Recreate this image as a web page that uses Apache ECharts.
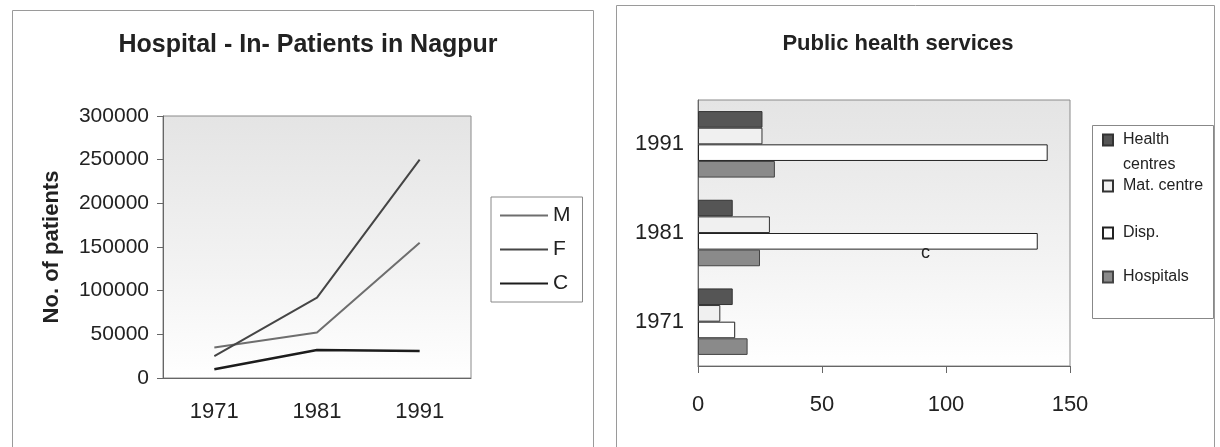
<!DOCTYPE html>
<html>
<head>
<meta charset="utf-8">
<script src="https://cdn.jsdelivr.net/npm/echarts@6/dist/echarts.min.js"></script>
<style>
  html, body { margin: 0; padding: 0; background: #fff; }
  #chart { width: 1220px; height: 447px; }
</style>
</head>
<body>
<div id="chart"></div>
<script>
// left chart: in-patients
const years = ['1971', '1981', '1991']
const patientsM = [35000, 52000, 155000]
const patientsF = [25000, 92000, 250000]
const patientsC = [10000, 32000, 31000]

// right chart: public health services
const serviceYears = ['1971', '1981', '1991']
const healthCentres = [14, 14, 26]
const matCentres = [9, 29, 26]
const dispensaries = [15, 137, 141]
const hospitals = [20, 25, 31]

const FONT = '"Liberation Sans", Arial, sans-serif'

const chart = echarts.init(document.getElementById('chart'), null, { renderer: 'canvas' })

const plotBg = new echarts.graphic.LinearGradient(0, 0, 0, 1, [
  { offset: 0, color: '#e4e4e4' },
  { offset: 0.6, color: '#f3f3f3' },
  { offset: 1, color: '#ffffff' }
])

const legendText = { fontFamily: FONT, fontSize: 16, color: '#222', padding: [0, 0, 0, 5] }

const option = {
  backgroundColor: '#fff',
  animation: false,
  graphic: [
    // panel frames
    { type: 'rect', shape: { x: 12.5, y: 10.5, width: 581, height: 460 }, style: { fill: 'none', stroke: '#9a9a9a', lineWidth: 1 } },
    { type: 'rect', shape: { x: 616.5, y: 5.5, width: 598, height: 460 }, style: { fill: 'none', stroke: '#9a9a9a', lineWidth: 1 } },
    // right legend frame
    { type: 'rect', shape: { x: 1092.5, y: 125.5, width: 121, height: 193 }, style: { fill: '#fff', stroke: '#888', lineWidth: 1 }, z: 0 },
    { type: 'text', left: 1123, top: 157, style: { text: 'centres', font: '16px ' + FONT, fill: '#222' }, z: 10 },
    // stray mark in the scan
    { type: 'text', left: 921, top: 244, style: { text: 'c', font: '18px ' + FONT, fill: '#222' }, z: 10 }
  ],
  title: [
    {
      text: 'Hospital - In- Patients in Nagpur',
      left: 303, top: 28, textAlign: 'center',
      textStyle: { fontFamily: FONT, fontSize: 25, fontWeight: 'bold', color: '#222' }
    },
    {
      text: 'Public health services',
      left: 893, top: 28, textAlign: 'center',
      textStyle: { fontFamily: FONT, fontSize: 22, fontWeight: 'bold', color: '#222' }
    }
  ],
  legend: [
    {
      data: ['M', 'F', 'C'],
      orient: 'vertical',
      left: 491, top: 197,
      padding: [8, 12, 8, 9],
      itemGap: 13,
      itemWidth: 48,
      itemHeight: 2,
      icon: 'rect',
      borderColor: '#888',
      borderWidth: 1,
      textStyle: { fontFamily: FONT, fontSize: 21, color: '#222' }
    },
    { data: [{ name: 'Health centres', icon: 'rect' }], formatter: () => 'Health', left: 1102, top: 132, itemWidth: 10, itemHeight: 11, padding: 0, itemGap: 0, textStyle: legendText },
    { data: [{ name: 'Mat. centre', icon: 'rect' }], left: 1102, top: 178, itemWidth: 10, itemHeight: 11, padding: 0, textStyle: legendText },
    { data: [{ name: 'Disp.', icon: 'rect' }], left: 1102, top: 225, itemWidth: 10, itemHeight: 11, padding: 0, textStyle: legendText },
    { data: [{ name: 'Hospitals', icon: 'rect' }], left: 1102, top: 269, itemWidth: 10, itemHeight: 11, padding: 0, textStyle: legendText }
  ],
  grid: [
    { left: 163, top: 116, width: 308, height: 262, show: true, borderColor: '#8a8a8a', borderWidth: 1, backgroundColor: plotBg },
    { left: 698, top: 100, width: 372, height: 266, show: true, borderColor: '#8a8a8a', borderWidth: 1, backgroundColor: plotBg }
  ],
  xAxis: [
    {
      gridIndex: 0,
      type: 'category',
      data: years,
      boundaryGap: true,
      axisLine: { lineStyle: { color: '#666' } },
      axisTick: { length: 6, lineStyle: { color: '#666' } },
      axisLabel: { margin: 23, fontFamily: FONT, fontSize: 22, color: '#222' }
    },
    {
      gridIndex: 1,
      type: 'value',
      min: 0, max: 150, interval: 50,
      splitLine: { show: false },
      axisLine: { show: true, lineStyle: { color: '#666' } },
      axisTick: { show: true, length: 7, lineStyle: { color: '#666' } },
      axisLabel: { margin: 28, fontFamily: FONT, fontSize: 22, color: '#222' }
    }
  ],
  yAxis: [
    {
      gridIndex: 0,
      type: 'value',
      min: 0, max: 300000, interval: 50000,
      name: 'No. of patients',
      nameLocation: 'middle',
      nameGap: 100,
      nameTextStyle: { fontFamily: FONT, fontSize: 22, fontWeight: 'bold', color: '#222' },
      splitLine: { show: false },
      axisLine: { show: true, lineStyle: { color: '#666' } },
      axisTick: { show: true, length: 6, lineStyle: { color: '#666' } },
      axisLabel: { margin: 14, fontFamily: FONT, fontSize: 21, color: '#222', formatter: v => String(v) }
    },
    {
      gridIndex: 1,
      type: 'category',
      data: serviceYears,
      axisLine: { lineStyle: { color: '#666' } },
      axisTick: { length: 6, lineStyle: { color: '#666' } },
      axisLabel: { margin: 14, fontFamily: FONT, fontSize: 22, color: '#222' }
    }
  ],
  series: [
    { name: 'M', type: 'line', xAxisIndex: 0, yAxisIndex: 0, data: patientsM, symbol: 'none', lineStyle: { color: '#6e6e6e', width: 2 }, itemStyle: { color: '#6e6e6e' } },
    { name: 'F', type: 'line', xAxisIndex: 0, yAxisIndex: 0, data: patientsF, symbol: 'none', lineStyle: { color: '#454545', width: 2 }, itemStyle: { color: '#454545' } },
    { name: 'C', type: 'line', xAxisIndex: 0, yAxisIndex: 0, data: patientsC, symbol: 'none', lineStyle: { color: '#1c1c1c', width: 2.5 }, itemStyle: { color: '#1c1c1c' } },

    { name: 'Health centres', type: 'bar', xAxisIndex: 1, yAxisIndex: 1, data: healthCentres, barGap: '0%', barCategoryGap: '25%', itemStyle: { color: '#555555', borderColor: '#333', borderWidth: 1 } },
    { name: 'Mat. centre', type: 'bar', xAxisIndex: 1, yAxisIndex: 1, data: matCentres, itemStyle: { color: '#f0f0f0', borderColor: '#333', borderWidth: 1 } },
    { name: 'Disp.', type: 'bar', xAxisIndex: 1, yAxisIndex: 1, data: dispensaries, itemStyle: { color: '#ffffff', borderColor: '#222', borderWidth: 1 } },
    { name: 'Hospitals', type: 'bar', xAxisIndex: 1, yAxisIndex: 1, data: hospitals, itemStyle: { color: '#8a8a8a', borderColor: '#444', borderWidth: 1 } }
  ]
}

chart.setOption(option)
</script>
</body>
</html>
